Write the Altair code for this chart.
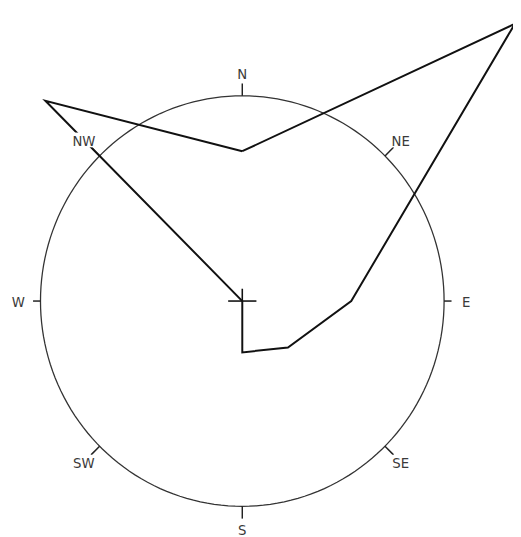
import altair as alt
import pandas as pd

# ---- data ----
directions = ["N", "NE", "E", "SE", "S", "SW", "W", "NW"]
bearings = [0, 45, 90, 135, 180, 225, 270, 315]
values = [73, 191, 54, 32, 25, 0, 0, 138]   # reference circle = 100
ring_value = 100
tick_outer = 106
label_radius = 111
cross_half = 7
cross_up = 6

# ---- layout (plot area starts at the page's 8px margin) ----
W, H = 513, 529
CX, CY = 238, 293.5          # centre of the rose inside the plot area
PXX, PXY = 2.05, 2.085       # pixels per unit (the scanned rose is slightly oval)
xs = alt.Scale(domain=[-CX / PXX, (W - CX) / PXX], nice=False, zero=False)
ys = alt.Scale(domain=[-(H - CY) / PXY, CY / PXY], nice=False, zero=False)

line_df = pd.DataFrame({
    "dir": directions + [directions[0]],
    "bearing": bearings + [bearings[0]],
    "value": values + [values[0]],
    "i": list(range(len(directions) + 1)),
})
dir_df = pd.DataFrame({"dir": directions, "bearing": bearings})

rad = "datum.bearing*PI/180"

ring = alt.Chart(alt.sequence(0, 362, 2, as_="bearing")).transform_calculate(
    x=f"{ring_value}*sin({rad})", y=f"{ring_value}*cos({rad})"
).mark_line(color="#333333", strokeWidth=1.3).encode(
    x=alt.X("x:Q", scale=xs, axis=None),
    y=alt.Y("y:Q", scale=ys, axis=None),
    order="bearing:Q",
)

ticks = alt.Chart(dir_df).transform_calculate(
    x=f"{ring_value}*sin({rad})", y=f"{ring_value}*cos({rad})",
    x2=f"{tick_outer}*sin({rad})", y2=f"{tick_outer}*cos({rad})",
).mark_rule(color="#222222", strokeWidth=1.5).encode(
    x=alt.X("x:Q", scale=xs, axis=None),
    y=alt.Y("y:Q", scale=ys, axis=None),
    x2="x2:Q", y2="y2:Q",
)

data_line = alt.Chart(line_df).transform_calculate(
    x=f"datum.value*sin({rad})", y=f"datum.value*cos({rad})"
).mark_line(color="#111111", strokeWidth=2).encode(
    x=alt.X("x:Q", scale=xs, axis=None),
    y=alt.Y("y:Q", scale=ys, axis=None),
    order="i:Q",
)

cross_h = alt.Chart(dir_df.head(1)).mark_rule(color="#111111", strokeWidth=1.6).encode(
    x=alt.datum(-cross_half, scale=xs, axis=None), x2=alt.datum(cross_half),
    y=alt.datum(0, scale=ys, axis=None),
)
cross_v = alt.Chart(dir_df.head(1)).mark_rule(color="#111111", strokeWidth=1.6).encode(
    x=alt.datum(0, scale=xs, axis=None),
    y=alt.datum(0, scale=ys, axis=None), y2=alt.datum(cross_up),
)

lab_pos = alt.Chart(dir_df).transform_calculate(
    x=f"{label_radius}*sin({rad})", y=f"{label_radius}*cos({rad})"
)
label_bg = lab_pos.mark_point(
    shape="M-1,-0.5H1V0.5H-1Z", size=900, filled=True, color="white", opacity=1
).encode(
    x=alt.X("x:Q", scale=xs, axis=None),
    y=alt.Y("y:Q", scale=ys, axis=None),
)
labels = lab_pos.mark_text(
    font="Liberation Sans Narrow, DejaVu Sans Condensed, Liberation Sans",
    fontSize=15, color="#3a3a3a", align="center", baseline="middle", dy=1
).encode(
    x=alt.X("x:Q", scale=xs, axis=None),
    y=alt.Y("y:Q", scale=ys, axis=None),
    text="dir:N",
)

chart = alt.layer(ring, ticks, data_line, cross_h, cross_v, label_bg, labels).properties(
    width=W, height=H, padding=0,
    autosize=alt.AutoSizeParams(type="none"),
).configure_view(stroke=None)

chart.save("out.html", embed_options={"renderer": "svg", "actions": False})
